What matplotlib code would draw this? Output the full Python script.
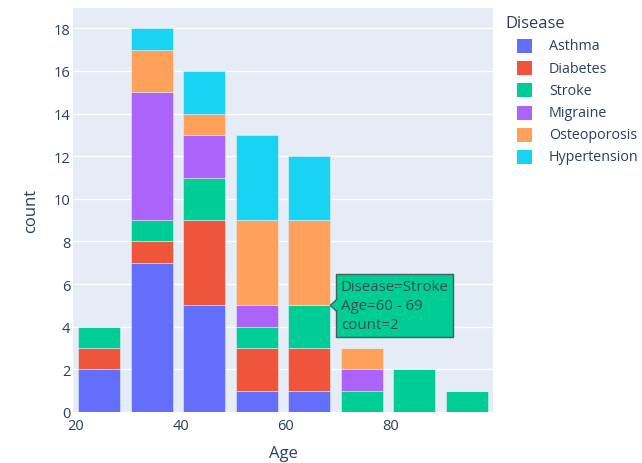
import numpy as np
import matplotlib.pyplot as plt
from matplotlib.patches import Rectangle, Polygon

# Data: counts per 10-year age bin, stacked by disease
bin_starts = [20, 30, 40, 50, 60, 70, 80, 90]
diseases = ['Asthma', 'Diabetes', 'Stroke', 'Migraine', 'Osteoporosis', 'Hypertension']
asthma = [2, 7, 5, 1, 1, 0, 0, 0]
diabetes = [1, 1, 4, 2, 2, 0, 0, 0]
stroke = [1, 1, 2, 1, 2, 1, 2, 1]
migraine = [0, 6, 2, 1, 0, 1, 0, 0]
osteoporosis = [0, 2, 1, 4, 4, 1, 0, 0]
hypertension = [0, 1, 2, 4, 3, 0, 0, 0]
colors = ['#636EFA', '#EF553B', '#00CC96', '#AB63FA', '#FFA15A', '#19D3F3']

# hover box shown in the screenshot
hover_disease = 'Stroke'
hover_bin = 60

plt.rcParams['font.family'] = ['Open Sans', 'DejaVu Sans']
text_color = '#2a3f5f'

fig = plt.figure(figsize=(6.42, 4.64), dpi=100)
ax = fig.add_axes([73 / 642, 51 / 464, 420 / 642, 404 / 464])
ax.set_facecolor('#E5ECF6')

series = [asthma, diabetes, stroke, migraine, osteoporosis, hypertension]
edges = np.array(bin_starts) - 0.5
centers = edges + 5
bottom = np.zeros(len(bin_starts))
bottoms = {}
for name, vals, c in zip(diseases, series, colors):
    vals = np.array(vals, dtype=float)
    bottoms[name] = bottom.copy()
    ax.bar(centers, vals, width=8, bottom=bottom, color=c,
           edgecolor='#E5ECF6', linewidth=0.4, zorder=3)
    bottom = bottom + vals

ax.set_xlim(19.5, 99.5)
ax.set_ylim(0, 18 * 1.053)
ax.set_xticks([20, 40, 60, 80])
ax.set_yticks(range(0, 19, 2))
ax.grid(True, color='white', linewidth=1.0, zorder=0)
ax.grid(False, axis='x')
ax.tick_params(length=0, labelsize=10.5, colors=text_color, pad=4)
ax.tick_params(axis='y', pad=2)
for s in ax.spines.values():
    s.set_visible(False)
ax.set_xlabel('Age', fontsize=12, color=text_color, labelpad=9)
ax.set_ylabel('count', fontsize=12, color=text_color, labelpad=10)

# legend, plotly style (title left, swatches indented)
fig.text(505 / 642, 1 - 24 / 464, 'Disease', fontsize=12, color=text_color,
         ha='left', va='center')
for j, (d, c) in enumerate(zip(diseases, colors)):
    yc = 1 - (47 + 22.2 * j) / 464
    fig.patches.append(Rectangle((517 / 642, yc - 7 / 464), 15 / 642, 14 / 464,
                                 facecolor=c, edgecolor='none',
                                 transform=fig.transFigure, figure=fig))
    fig.text(549 / 642, yc, d, fontsize=10.3, color=text_color,
             ha='left', va='center')

# hover tooltip at the top of the hovered segment
i = bin_starts.index(hover_bin)
k = diseases.index(hover_disease)
tip_x = centers[i] + 4
tip_y = bottoms[hover_disease][i] + series[k][i]
pad_pt = 0.3 * 10.8
ax.annotate(f'Disease={hover_disease}\nAge={hover_bin} - {hover_bin + 9}\ncount={series[k][i]}',
            xy=(tip_x, tip_y), xytext=(6 * 0.72 + pad_pt, 0), textcoords='offset points',
            ha='left', va='center', fontsize=10.8, color='#3d4d4d', zorder=6,
            linespacing=1.4,
            bbox=dict(boxstyle='square,pad=0.3', facecolor=colors[k],
                      edgecolor='#44605a', linewidth=1.0))
px, py = ax.transData.transform((tip_x, tip_y))
ptr = Polygon([[px, py], [px + 6.5, py + 6], [px + 6.5, py - 6]], closed=True,
              facecolor=colors[k], edgecolor='#44605a', linewidth=1.0,
              transform=None, zorder=7)
fig.patches.append(ptr)
# cover the border segment between pointer and box
fig.patches.append(Polygon([[px + 5.5, py + 5], [px + 8.5, py + 5], [px + 8.5, py - 5], [px + 5.5, py - 5]],
                           closed=True, facecolor=colors[k], edgecolor='none',
                           transform=None, zorder=8))

fig.savefig('out.png', dpi=100)
